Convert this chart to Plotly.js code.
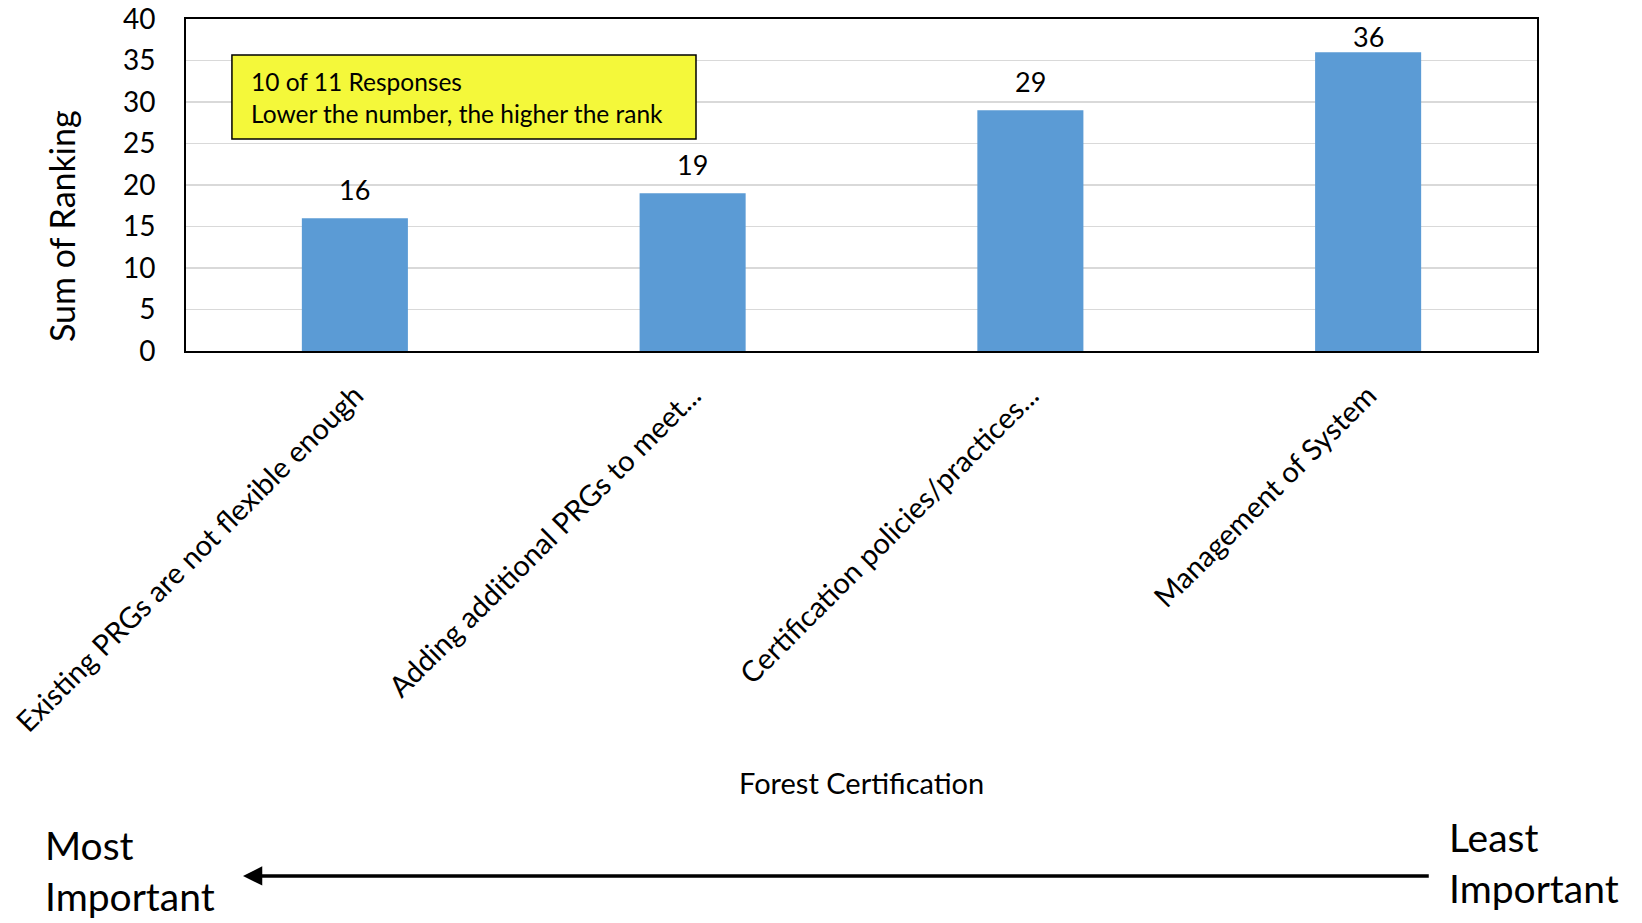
<!DOCTYPE html>
<html>
<head>
<meta charset="utf-8">
<script src="https://cdn.plot.ly/plotly-3.0.1.min.js"></script>
<style>html,body{margin:0;padding:0;background:#fff;}#chart{width:1642px;height:923px;}</style>
</head>
<body>
<div id="chart"></div>
<script>
const categories = [
  "Existing PRGs are not flexible enough",
  "Adding additional PRGs to meet...",
  "Certification policies/practices...",
  "Management of System"
];
const values = [16, 19, 29, 36];
const yTickVals = [0, 5, 10, 15, 20, 25, 30, 35, 40];
const labelShift = [29, 29, 29, 16];

const FONT = "Lato, 'Open Sans', sans-serif";

const trace = {
  type: "bar",
  x: categories,
  y: values,
  marker: {color: "#5B9BD5"},
  width: 0.314,
  hoverinfo: "x+y"
};

const annotations = values.map((v, i) => ({
  x: categories[i], y: v, xref: "x", yref: "y",
  text: String(v), showarrow: false,
  yanchor: "middle", yshift: labelShift[i],
  font: {family: FONT, size: 27, color: "#000"}
}));

annotations.push(
  {xref: "paper", yref: "paper", x: 0.0466, y: 0.7636, xanchor: "left", yanchor: "middle", align: "left",
   text: "10 of 11 Responses<br>Lower the number, the higher the rank", showarrow: false,
   font: {family: FONT, size: 24.5, color: "#000"}},
  {xref: "paper", yref: "paper", x: -0.0925, y: 0.3765, xanchor: "center", yanchor: "middle",
   textangle: -90, showarrow: false,
   text: "Sum of Ranking", font: {family: FONT, size: 34, color: "#000"}},
  {xref: "paper", yref: "paper", x: 0.5, y: -1.301, xanchor: "center", yanchor: "middle", showarrow: false,
   text: "Forest Certification", font: {family: FONT, size: 29, color: "#000"}},
  {xref: "paper", yref: "paper", x: -0.106, y: -1.566, xanchor: "left", yanchor: "middle", align: "left",
   text: "Most<br>Important", showarrow: false, font: {family: FONT, size: 39, color: "#000"}},
  {xref: "paper", yref: "paper", x: 0.9333, y: -1.542, xanchor: "left", yanchor: "middle", align: "left",
   text: "Least<br>Important", showarrow: false, font: {family: FONT, size: 39, color: "#000"}},
  {xref: "paper", yref: "paper", axref: "paper", ayref: "paper",
   x: 0.0422, y: -1.581, ax: 0.921, ay: -1.581, text: "", showarrow: true,
   arrowhead: 2, arrowsize: 1.1, arrowwidth: 3.5, arrowcolor: "#000"}
);

const layout = {
  width: 1642, height: 923,
  margin: {l: 186, r: 105, t: 19, b: 572},
  paper_bgcolor: "#fff", plot_bgcolor: "#fff",
  showlegend: false,
  font: {family: FONT, color: "#000"},
  xaxis: {
    type: "category",
    tickangle: -45,
    tickfont: {family: FONT, size: 29, color: "#000"},
    showline: true, mirror: true, linecolor: "#000", linewidth: 2,
    showgrid: false, ticks: "",
    ticklabelstandoff: 14,
    fixedrange: true
  },
  yaxis: {
    range: [0, 40],
    tickvals: yTickVals,
    tickfont: {family: FONT, size: 28, color: "#000"},
    showline: true, mirror: true, linecolor: "#000", linewidth: 2,
    showgrid: true, gridcolor: "#d9d9d9", gridwidth: 1.5,
    zeroline: false, ticks: "",
    ticklabelstandoff: 23,
    fixedrange: true
  },
  shapes: [
    {type: "rect", xref: "paper", yref: "paper", x0: 0.034, x1: 0.3775, y0: 0.6386, y1: 0.8916,
     fillcolor: "#F4F83A", line: {color: "#000", width: 1.5}, layer: "above"}
  ],
  annotations: annotations
};

Plotly.newPlot("chart", [trace], layout, {displayModeBar: false, staticPlot: true});
</script>
</body>
</html>
